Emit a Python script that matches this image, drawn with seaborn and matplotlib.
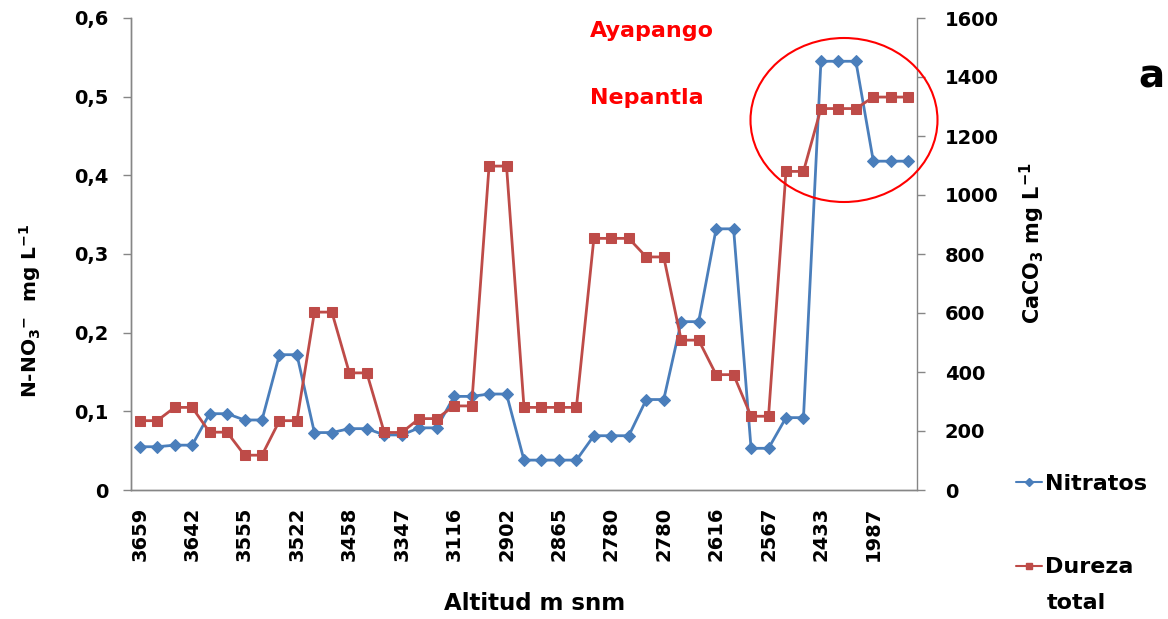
import matplotlib
matplotlib.use('Agg')
import matplotlib.pyplot as plt
import seaborn as sns
import numpy as np
import pandas as pd
from matplotlib.patches import Ellipse
from matplotlib.lines import Line2D

# ---- data ----
altitud_labels = ["3659", "3642", "3555", "3522", "3458", "3347", "3116", "2902",
                  "2865", "2780", "2780", "2616", "2567", "2433", "1987"]
nitratos = [0.055, 0.055, 0.057, 0.057, 0.097, 0.097, 0.089, 0.089, 0.172, 0.172,
            0.073, 0.073, 0.078, 0.078, 0.070, 0.070, 0.079, 0.079, 0.119, 0.119,
            0.122, 0.122, 0.038, 0.038, 0.038, 0.038, 0.069, 0.069, 0.069, 0.115,
            0.115, 0.214, 0.214, 0.332, 0.332, 0.053, 0.053, 0.092, 0.092, 0.545,
            0.545, 0.545, 0.418, 0.418, 0.418]
dureza = [235, 235, 280, 280, 196, 196, 118, 118, 235, 235,
          603, 603, 397, 397, 195, 195, 242, 242, 285, 285,
          1098, 1098, 280, 280, 280, 280, 853, 853, 853, 790,
          790, 508, 508, 391, 391, 250, 250, 1080, 1080, 1293,
          1293, 1293, 1332, 1332, 1332]
left_ticks = [0, 0.1, 0.2, 0.3, 0.4, 0.5, 0.6]
left_ticklabels = ["0", "0,1", "0,2", "0,3", "0,4", "0,5", "0,6"]
right_ticks = [0, 200, 400, 600, 800, 1000, 1200, 1400, 1600]

blue = "#4A7EBB"
red = "#BE4B48"
gray = "#868686"

sns.set_theme(style="white")
plt.rcParams['font.family'] = ['DejaVu Sans']
plt.rcParams['font.weight'] = 'bold'
plt.rcParams['mathtext.fontset'] = 'dejavusans'
plt.rcParams['mathtext.default'] = 'bf'
plt.rcParams['text.color'] = 'black'
plt.rcParams['axes.labelcolor'] = 'black'
plt.rcParams['xtick.color'] = 'black'
plt.rcParams['ytick.color'] = 'black'

df = pd.DataFrame({"idx": np.arange(len(nitratos)),
                   "Nitratos": nitratos,
                   "Dureza total": dureza})

W, H = 1168, 619
fig = plt.figure(figsize=(W / 100, H / 100), dpi=100)
x0, x1, y0, y1 = 131, 917, 490, 18
ax = fig.add_axes([x0 / W, 1 - y0 / H, (x1 - x0) / W, (y0 - y1) / H])

sns.lineplot(data=df, x="idx", y="Nitratos", ax=ax, color=blue, marker="D",
             markersize=6, markeredgecolor=blue, linewidth=2, legend=False)
ax2 = ax.twinx()
sns.lineplot(data=df, x="idx", y="Dureza total", ax=ax2, color=red, marker="s",
             markersize=7, markeredgecolor=red, linewidth=2, legend=False)

ax.set_xlim(-0.5, len(nitratos) - 0.5)
ax.set_ylim(0, 0.6)
ax2.set_ylim(0, 1600)

ax.set_yticks(left_ticks)
ax.set_yticklabels(left_ticklabels, fontsize=14, fontweight='bold')
ax2.set_yticks(right_ticks)
ax2.set_yticklabels([str(v) for v in right_ticks], fontsize=14, fontweight='bold')

label_pos = np.arange(0, len(nitratos), 3)
ax.set_xticks(label_pos)
ax.set_xticklabels(altitud_labels, rotation=90, fontsize=14, fontweight='bold')
ax.set_xticks(np.arange(-0.5, len(nitratos), 1), minor=True)
ax.tick_params(axis='x', which='major', length=0, pad=12)
ax.tick_params(axis='x', which='minor', length=6, color=gray, width=1, direction='out')
ax.tick_params(axis='y', length=6, color=gray, width=1, direction='out', pad=10)
ax2.tick_params(axis='y', length=6, color=gray, width=1, direction='out', pad=14)

for a in (ax, ax2):
    a.spines['top'].set_visible(False)
    for s in ('left', 'right', 'bottom'):
        a.spines[s].set_color(gray)
        a.spines[s].set_linewidth(1)
    a.set_xlabel("")
    a.set_ylabel("")
    a.grid(False)
ax.spines['right'].set_visible(False)

fig.text(30 / W, 1 - 311 / H, "N-NO$_3$$^{-}$  mg L$^{-1}$", rotation=90,
         ha='center', va='center', fontsize=14.5, fontweight='bold')
fig.text(1032 / W, 1 - 243 / H, "CaCO$_3$ mg L$^{-1}$", rotation=90,
         ha='center', va='center', fontsize=15, fontweight='bold')
fig.text(535 / W, 1 - 603 / H, "Altitud m snm", ha='center', va='center',
         fontsize=16.5, fontweight='bold')

fig.text(590 / W, 1 - 31 / H, "Ayapango", color='red', ha='left', va='center',
         fontsize=16, fontweight='bold')
fig.text(590 / W, 1 - 98 / H, "Nepantla", color='red', ha='left', va='center',
         fontsize=16, fontweight='bold')
fig.text(1138 / W, 1 - 77 / H, "a", ha='left', va='center', fontsize=28,
         fontweight='bold')

ell = Ellipse((844 / W, 1 - 120 / H), 187 / W, 164 / H, transform=fig.transFigure,
              fill=False, edgecolor='red', linewidth=1.5, clip_on=False)
fig.add_artist(ell)

handles = [Line2D([], [], color=blue, marker='D', markersize=4, linewidth=1.5),
           Line2D([], [], color=red, marker='s', markersize=5, linewidth=1.5)]
fig.legend(handles, ["Nitratos", "Dureza"], loc='upper left',
           bbox_to_anchor=(1016 / W, 1 - 474 / H), frameon=False,
           prop={'size': 16, 'weight': 'bold'}, handlelength=1.15,
           handletextpad=0.15, labelspacing=2.85, borderaxespad=0, borderpad=0)
fig.text(1047 / W, 1 - 603 / H, "total", ha='left', va='center',
         fontsize=16, fontweight='bold')

fig.savefig("out.png", dpi=100)
